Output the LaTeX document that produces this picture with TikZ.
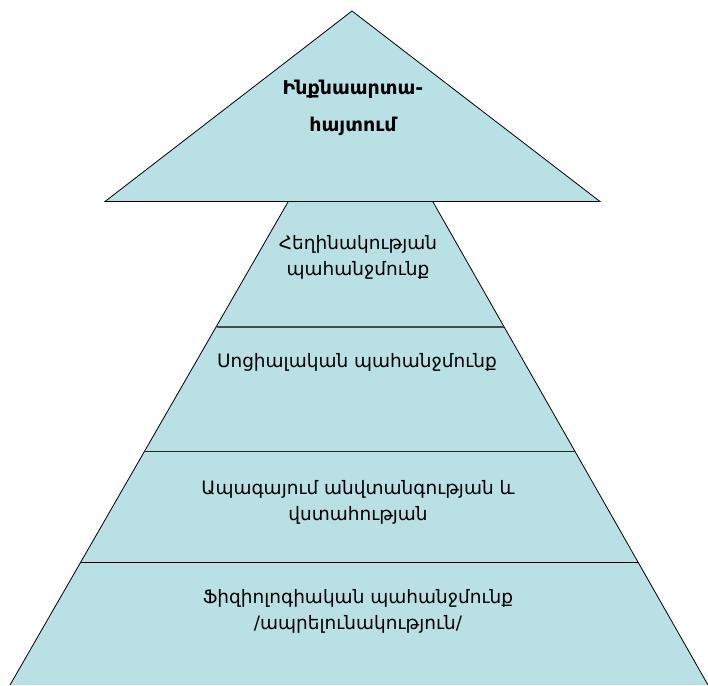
\documentclass[tikz,border=0pt]{standalone}
\usepackage{fontspec}
\setmainfont{DejaVu Sans}
\definecolor{layerfill}{RGB}{185,224,228}
\definecolor{seam}{RGB}{64,78,80}
\begin{document}
\begin{tikzpicture}[x=1pt,y=-1pt,
  layer/.style={fill=layerfill,draw=black,line width=0.8pt,line join=miter},
  divider/.style={draw=seam,line width=2pt},
  label/.style={align=center,font=\fontsize{18.5}{26}\selectfont,text=black,inner sep=0pt}]
\useasboundingbox (0,0) rectangle (708,685);
% trapezoid body of the pyramid
\coordinate (tl) at (288,202);
\coordinate (tr) at (433,202);
\coordinate (bl) at (10,685);
\coordinate (br) at (708,685);
\fill[layerfill] (tl) -- (tr) -- (br) -- (bl) -- cycle;
\draw[line width=0.8pt] (tl) -- (bl);
\draw[line width=0.8pt] (tr) -- (br);
% dividers between the levels
\coordinate (d1l) at (216.6,326.5);
\coordinate (d1r) at (503.6,326.5);
\coordinate (d2l) at (144.7,451.5);
\coordinate (d2r) at (575.3,451.5);
\coordinate (d3l) at (80.5,562.5);
\coordinate (d3r) at (638.5,562.5);
\draw[divider] (d1l) -- (d1r);
\draw[divider,draw=black!85,line width=1.6pt] (d2l) -- (d2r);
\draw[divider,draw=black,line width=1.3pt] (d3l) -- (d3r);
% top triangle
\coordinate (apex) at (352,11);
\coordinate (al) at (105,201.5);
\coordinate (ar) at (600,201.5);
\draw[layer] (apex) -- (ar) -- (al) -- cycle;
\draw[line width=1.4pt] (al) -- (ar);
% labels
\node[label,font=\fontsize{19}{37}\selectfont\bfseries] (top) at (353,108) {Ինքնաարտա-\\հայտում};
\node[label] (esteem) at (358,257) {Հեղինակության\\պահանջմունք};
\node[label] (social) at (357,362) {Սոցիալական պահանջմունք};
\node[label] (safety) at (358,502) {Ապագայում անվտանգության և\\վստահության};
\node[label] (physio) at (358,611) {Ֆիզիոլոգիական պահանջմունք\\/ապրելունակություն/};
\end{tikzpicture}
\end{document}
